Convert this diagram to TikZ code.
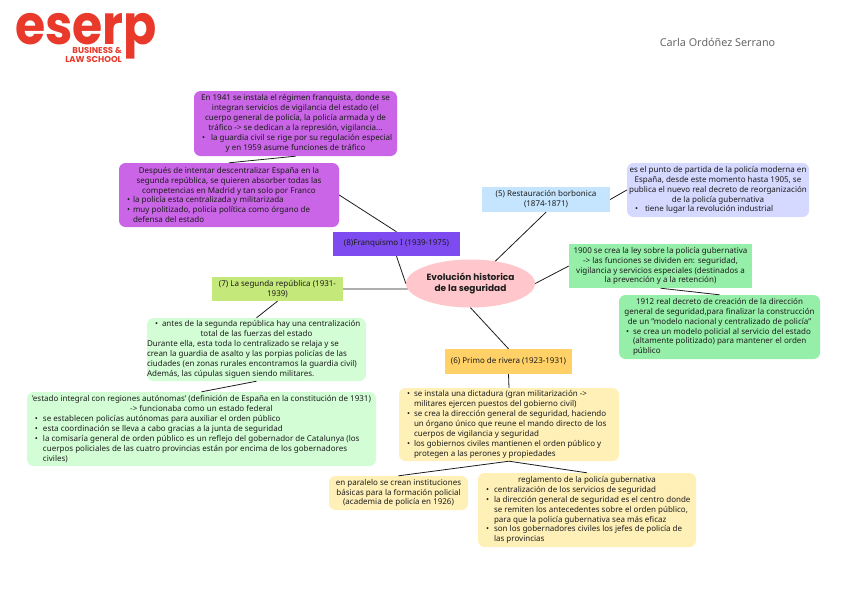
\documentclass[tikz,border=0pt]{standalone}
\usepackage{fontspec}
\usetikzlibrary{shapes.geometric}
\setmainfont{Noto Sans}
\newfontfamily\logofont{Poppins}
\definecolor{cPurple}{HTML}{C965E6}
\definecolor{cViolet}{HTML}{7E4BF0}
\definecolor{cBlue}{HTML}{C5E5FF}
\definecolor{cLav}{HTML}{D5D8FF}
\definecolor{cGreen}{HTML}{96EFA8}
\definecolor{cLight}{HTML}{D3FDD5}
\definecolor{cCream}{HTML}{FFF0B8}
\definecolor{cAmber}{HTML}{FFD166}
\definecolor{cLime}{HTML}{C4E87A}
\definecolor{cPink}{HTML}{FFC6CC}
\definecolor{cLogo}{HTML}{E8392B}
\definecolor{cInk}{HTML}{1C1C1C}
\newlength\ba \newlength\bb
\newcommand\setb[2]{\setlength\ba{#1pt}\setlength\bb{#2pt}}
\newcommand\cl[1]{\hbox to\hsize{\hss #1\hss}}
\newcommand\bl[1]{\hbox to\hsize{\hspace*{\ba}\rlap{\textbullet}\hspace*{\dimexpr\bb-\ba\relax}#1\hss}}
\newcommand\il[1]{\hbox to\hsize{\hspace*{\bb}#1\hss}}
\newcommand\fl[1]{\hbox to\hsize{#1\hss}}
\newcommand\tb[2]{\parbox{#1pt}{\fontsize{8}{9.9}\selectfont\color{cInk}#2}}
\tikzset{
 x=1pt,y=-1pt,
 rbox/.style={rounded corners=6.5pt,inner sep=0pt,anchor=center,align=center},
 sbox/.style={inner sep=0pt,anchor=center,align=center},
 link/.style={draw=cInk,line width=0.8pt},
}
\begin{document}
\begin{tikzpicture}
\useasboundingbox (0,0) rectangle (848,600);
% logo and author
\node[inner sep=0pt,anchor=base west,text=cLogo,xscale=0.89,transform shape] (logo) at (15,44) {\logofont\fontsize{55}{55}\selectfont\bfseries eserp};
\node[inner sep=0pt,anchor=base east,text=cLogo,font=\logofont\fontsize{8.5}{9}\selectfont\bfseries] (schoola) at (122,53.5) {BUSINESS \&};
\node[inner sep=0pt,anchor=base east,text=cLogo,font=\logofont\fontsize{8.5}{9}\selectfont\bfseries] (schoolb) at (122,62) {LAW SCHOOL};
\node[inner sep=0pt,text=black!60,font=\fontsize{10.8}{12}\selectfont] (author) at (717.5,42) {Carla Ordóñez Serrano};

\node[fill=cPink,ellipse,minimum width=129pt,minimum height=48pt,inner sep=0pt,align=center,text=cInk,font=\logofont\fontsize{9}{11.6}\selectfont\bfseries] (root) at (470.5,283.5)
 {Evolución historica\\de la seguridad};

% eighth period
\node[rbox,fill=cPurple,minimum width=203pt,minimum height=65pt] (fa) at (295.5,123.5) {\setb{8}{17}\tb{203}{%
\cl{En 1941 se instala el régimen franquista, donde se}
\cl{integran servicios de vigilancia del estado (el}
\cl{cuerpo general de policía, la policía armada y de}
\cl{tráfico -> se dedican a la represión, vigilancia...}
\bl{la guardia civil se rige por su regulación especial}
\cl{y en 1959 asume funciones de tráfico}}};
\node[rbox,fill=cPurple,minimum width=220pt,minimum height=64pt] (fb) at (229,195) {\setb{8}{14}\tb{220}{%
\cl{Después de intentar descentralizar España en la}
\cl{segunda república, se quieren absorber todas las}
\cl{competencias en Madrid y tan solo por Franco}
\bl{la policía esta centralizada y militarizada}
\bl{muy politizado, policía política como órgano de}
\il{defensa del estado}}};
\node[sbox,fill=cViolet,minimum width=127pt,minimum height=24pt] (fr) at (396.5,244) {\tb{127}{\cl{(8)Franquismo I (1939-1975)}}};

% fifth period
\node[sbox,fill=cBlue,minimum width=128pt,minimum height=25pt] (re) at (546,199.5) {\tb{128}{\cl{(5) Restauración borbonica}\cl{(1874-1871)}}};
\node[rbox,fill=cLav,minimum width=182pt,minimum height=54pt] (la) at (718,190) {\setb{8}{18}\tb{182}{%
\cl{es el punto de partida de la policía moderna en}
\cl{España, desde este momento hasta 1905, se}
\cl{publica el nuevo real decreto de reorganización}
\cl{de la policía gubernativa}
\bl{tiene lugar la revolución industrial}}};
\node[sbox,fill=cGreen,minimum width=183pt,minimum height=44pt] (ga) at (660.5,266) {\tb{183}{%
\cl{1900 se crea la ley sobre la policía gubernativa}
\cl{-> las funciones se dividen en: seguridad,}
\cl{vigilancia y servicios especiales (destinados a}
\cl{la prevención y a la retención)}}};
\node[rbox,fill=cGreen,minimum width=201pt,minimum height=64pt] (gb) at (719.5,327) {\setb{7}{14}\tb{201}{%
\cl{1912 real decreto de creación de la dirección}
\cl{general de seguridad,para finalizar la construcción}
\cl{de un "modelo nacional y centralizado de policía"}
\bl{se crea un modelo policial al servicio del estado}
\il{(altamente politizado) para mantener el orden}
\il{público}}};

% sixth period
\node[sbox,fill=cAmber,minimum width=127pt,minimum height=25pt] (pr) at (508.5,361.5) {\tb{127}{\cl{(6) Primo de rivera (1923-1931)}}};
\node[rbox,fill=cCream,minimum width=220pt,minimum height=73pt] (ya) at (509,424.5) {\setb{8}{15}\tb{220}{%
\bl{se instala una dictadura (gran militarización ->}
\il{militares ejercen puestos del gobierno civil)}
\bl{se crea la dirección general de seguridad, haciendo}
\il{un órgano único que reune el mando directo de los}
\il{cuerpos de vigilancia y seguridad}
\bl{los gobiernos civiles mantienen el orden público y}
\il{protegen a las perones y propiedades}}};
\node[rbox,fill=cCream,minimum width=139pt,minimum height=34pt] (yb) at (398.5,493) {\tb{139}{%
\cl{en paralelo se crean instituciones}
\cl{básicas para la formación policial}
\cl{(academia de policía en 1926)}}};
\node[rbox,fill=cCream,minimum width=218pt,minimum height=74pt] (yc) at (587,510) {\setb{8}{16}\tb{218}{%
\cl{reglamento de la policía gubernativa}
\bl{centralización de los servicios de seguridad}
\bl{la dirección general de seguridad es el centro donde}
\il{se remiten los antecedentes sobre el orden público,}
\il{para que la policía gubernativa sea más eficaz}
\bl{son los gobernadores civiles los jefes de policía de}
\il{las provincias}}};

% seventh period
\node[sbox,fill=cLime,minimum width=131pt,minimum height=24pt] (se) at (277.5,289) {\tb{131}{\cl{(7) La segunda república (1931-}\cl{1939)}}};
\node[rbox,fill=cLight,minimum width=219pt,minimum height=63pt] (lb) at (256.5,349.5) {\setb{8}{15}\tb{219}{%
\bl{antes de la segunda república hay una centralización}
\cl{total de las fuerzas del estado}
\fl{Durante ella, esta toda lo centralizado se relaja y se}
\fl{crean la guardia de asalto y las porpias policías de las}
\fl{ciudades (en zonas rurales encontramos la guardia civil)}
\fl{Además, las cúpulas siguen siendo militares.}}};
\node[rbox,fill=cLight,minimum width=349pt,minimum height=74pt] (lc) at (201.5,429) {\setb{8}{16}\tb{349}{%
\cl{'estado integral con regiones autónomas' (definición de España en la constitución de 1931)}
\cl{-> funcionaba como un estado federal}
\bl{se establecen policías autónomas para auxiliar el orden público}
\bl{esta coordinación se lleva a cabo gracias a la junta de seguridad}
\bl{la comisaría general de orden público es un reflejo del gobernador de Catalunya (los}
\il{cuerpos policiales de las cuatro provincias están por encima de los gobernadores}
\il{civiles)}}};

% connectors
\draw[link] (fa.south) -- (fb.north);
\draw[link] (fb.east) -- (fr.north);
\draw[link] (fr.south) -- (root.180);
\draw[link] (se.east) -- (root.185);
\draw[link] (root.42) -- (re.south);
\draw[link] (re.east) -- (la.west);
\draw[link] (root.east) -- (ga.west);
\draw[link] (ga.south) -- (gb.north);
\draw[link] (root.south) -- (pr.north);
\draw[link] (pr.south) -- (ya.north);
\draw[link] (ya.south) -- (yb.north);
\draw[link] (ya.south) -- (yc.north);
\draw[link] (se.south) -- (lb.north);
\draw[link] (lb.south) -- (lc.north);
\end{tikzpicture}
\end{document}
